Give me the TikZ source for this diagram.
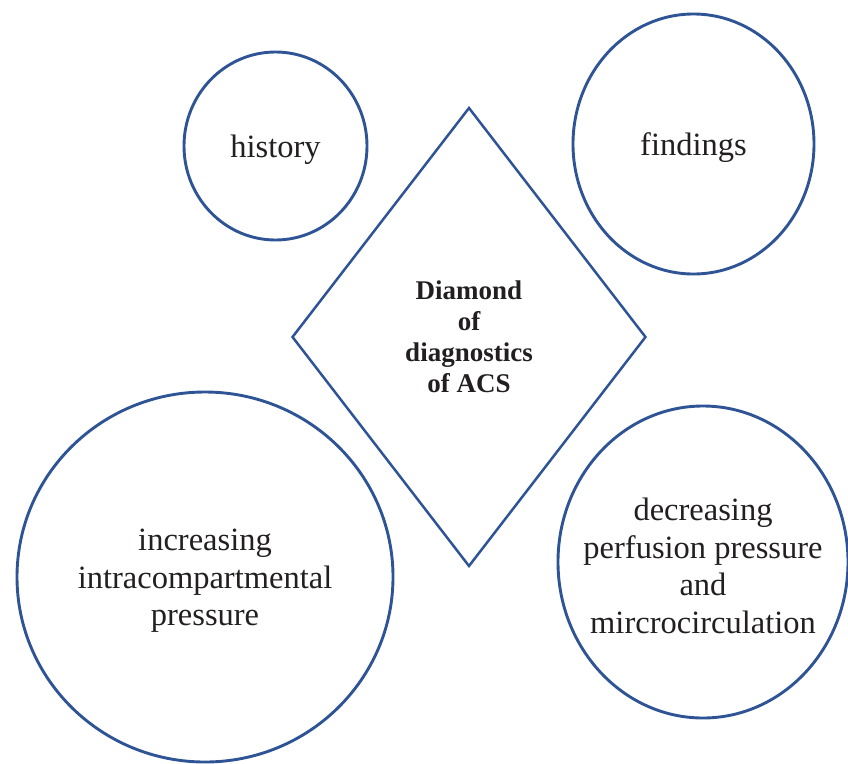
\documentclass[tikz,border=0pt]{standalone}
\usepackage{fontspec}
\setmainfont{Liberation Serif}
\usetikzlibrary{shapes.geometric}
\definecolor{acsblue}{RGB}{46,84,150}
\definecolor{acstext}{RGB}{35,31,32}

\begin{document}
\begin{tikzpicture}[x=1pt,y=-1pt,
  every node/.style={draw=acsblue,line width=2.9pt,shape=ellipse,inner sep=0pt},
  every label/.style={draw=none,shape=rectangle,align=center,yshift=-4pt,text=acstext,font=\fontsize{32.5}{37.5}\selectfont}]
  \useasboundingbox (0,0) rectangle (848,763);
  \path (275.5,146) node[minimum width=183pt,minimum height=188pt,label=center:history] (hist) {}
  (693.5,144) node[minimum width=241pt,minimum height=260pt,label=center:findings] (find) {}
  (205,577) node[minimum width=376pt,minimum height=370pt,label={center:increasing\\intracompartmental\\pressure}] (incr) {}
  (703,562) node[minimum width=290pt,minimum height=312pt,label={center:decreasing\\perfusion pressure\\and\\mircrocirculation}] (decr) {};
  \node[shape=diamond,line width=2.5pt,minimum width=354pt,minimum height=459pt,align=center,text=acstext,font=\bfseries\fontsize{27}{31}\selectfont] (acs) at (469,337) {Diamond\\of\\diagnostics\\of ACS};
\end{tikzpicture}
\end{document}
